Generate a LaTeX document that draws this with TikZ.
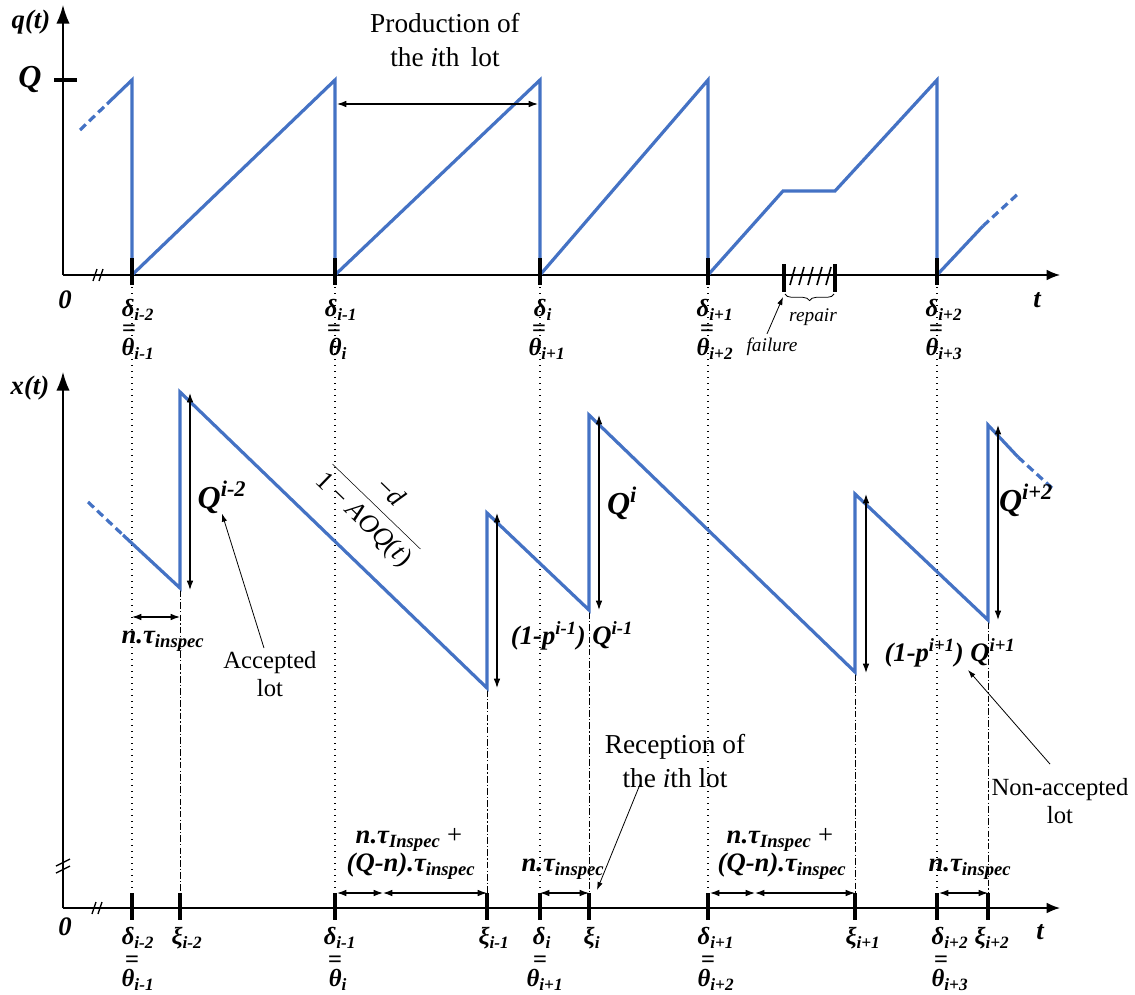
\documentclass[tikz,border=0pt]{standalone}
\usepackage{fontspec}
\setmainfont{Liberation Serif}
\usetikzlibrary{arrows.meta,decorations.pathreplacing}
\definecolor{curveblue}{HTML}{4472C4}
\begin{document}
\begin{tikzpicture}[x=0.75pt,y=-0.75pt,
  axis/.style={line width=1.1pt},
  axarrow/.style={axis,-{Latex[length=14pt,width=10pt]}},
  haxarrow/.style={axis,-{Latex[length=10pt,width=8pt]}},
  curv/.style={draw=curveblue,line width=2.4pt,line join=miter,miter limit=20},
  curvdash/.style={curv,dash pattern=on 6pt off 3.5pt},
  tickmark/.style={line width=3pt},
  dotv/.style={line width=1.1pt,dash pattern=on 1.1pt off 3.4pt},
  dashdotv/.style={line width=0.7pt,dash pattern=on 5pt off 1.6pt on 1pt off 1.6pt},
  dbl/.style={line width=0.9pt,{Latex[length=7pt,width=5pt]}-{Latex[length=7pt,width=5pt]}},
  pointer/.style={line width=0.6pt,-{Latex[length=6pt,width=4pt]}},
  lab/.style={inner sep=0pt,font=\bfseries\itshape\fontsize{18.5}{20}\selectfont},
  biglab/.style={inner sep=0pt,font=\bfseries\itshape\fontsize{20}{22}\selectfont},
  qlab/.style={inner sep=0pt,font=\bfseries\itshape\fontsize{24}{26}\selectfont},
  txt/.style={inner sep=0pt,align=center,font=\fontsize{18.5}{21}\selectfont},
  txtb/.style={inner sep=0pt,align=center,font=\fontsize{20.5}{26}\selectfont},
  smallit/.style={inner sep=0pt,font=\itshape\fontsize{14.5}{16}\selectfont}
]
\useasboundingbox (0,0) rectangle (1135,995);

% ---------- dotted and dash-dot guide lines ----------
\foreach \x in {132,335,540,708,937}
  \draw[dotv] (\x,287) -- (\x,893);
\draw[dashdotv] (180,590) -- (180,893);
\draw[dashdotv] (487,690) -- (487,893);
\draw[dashdotv] (589,612) -- (589,893);
\draw[dashdotv] (855,674) -- (855,893);
\draw[dashdotv] (988,622) -- (988,893);

% ---------- top panel axes ----------
\draw[axarrow] (63,275) -- (63,5);
\draw[haxarrow] (63,275) -- (1060,275);
\draw[line width=1pt] (93,281) -- (97,269) (99,281) -- (103,269);
\draw[tickmark] (54,80) -- (77,80);
\node[biglab] (qt) at (31,22) {q(t)};
\node[qlab] (Qlab) at (30,80) {Q};
\node[biglab] (zero1) at (65,300) {0};
\node[biglab] (t1) at (1037,300) {t};

% top curve
\draw[curvdash] (80,130) -- (107,104);
\draw[curv] (107,104) -- (132,80) -- (132,275) -- (335,80) -- (335,275) -- (540,80) -- (540,275)
  -- (708,80) -- (708,275) -- (783,191) -- (835,191) -- (937,80) -- (937,275) -- (983,226);
\draw[curvdash] (983,226) -- (1020,192);

% top ticks
\foreach \x in {132,335,540,708,937}
  \draw[tickmark] (\x,258) -- (\x,285);
\draw[tickmark] (784,264) -- (784,292);
\draw[tickmark] (835,264) -- (835,292);
\foreach \x in {790,799,808,817,826}
  \draw[line width=1.2pt] (\x,285) -- (\x+5,267);
\draw[line width=0.6pt,decorate,decoration={brace,mirror,amplitude=5pt}] (785,294) -- (834,294);
\node[smallit] (repair) at (813,317) {repair};
\node[smallit] (failure) at (772,347) {failure};
\coordinate (failpt) at (783,297);
\draw[pointer] (failure.north) ++(-5,-4) -- (failpt);

% production label
\draw[dbl] (337,104) -- (538,104);
\node[txtb] (prod) at (445,40) {Production of\\the \textit{i}th\, lot};

% top axis labels
\node[lab] (dA) at (138,310) {δ\textsubscript{i-2}};
\node[lab] (eA) at (129,331) {=};
\node[lab] (tA) at (138,349) {θ\textsubscript{i-1}};
\node[lab] (dB) at (341,310) {δ\textsubscript{i-1}};
\node[lab] (eB) at (334,331) {=};
\node[lab] (tB) at (338,349) {θ\textsubscript{i}};
\node[lab] (dC) at (543,310) {δ\textsubscript{i}};
\node[lab] (eC) at (539,331) {=};
\node[lab] (tC) at (547,349) {θ\textsubscript{i+1}};
\node[lab] (dD) at (715,310) {δ\textsubscript{i+1}};
\node[lab] (eD) at (707,331) {=};
\node[lab] (tD) at (715,349) {θ\textsubscript{i+2}};
\node[lab] (dE) at (944,310) {δ\textsubscript{i+2}};
\node[lab] (eE) at (936,331) {=};
\node[lab] (tE) at (944,349) {θ\textsubscript{i+3}};

% ---------- bottom panel axes ----------
\draw[axarrow] (63,908) -- (63,372);
\draw[haxarrow] (63,908) -- (1060,908);
\draw[line width=1pt] (56,866) -- (70,859) (56,873) -- (70,866);
\draw[line width=1pt] (92,914) -- (96,902) (98,914) -- (102,902);
\node[biglab] (xt) at (30,388) {x(t)};
\node[biglab] (zero2) at (65,927) {0};
\node[biglab] (t2) at (1040,932) {t};

% bottom curve
\draw[curvdash] (88,502) -- (123,535);
\draw[curv] (123,535) -- (180,588) -- (180,392) -- (487,688) -- (487,513) -- (589,610) -- (589,415)
  -- (855,672) -- (855,494) -- (988,620) -- (988,425) -- (1018,457);
\draw[curvdash] (1018,457) -- (1052,488);

% bottom ticks
\foreach \x in {132,180,335,487,540,589,708,855,937,988}
  \draw[tickmark] (\x,893) -- (\x,920);

% vertical quantity arrows
\draw[dbl] (190,393) -- (190,590);
\draw[dbl] (497,513) -- (497,688);
\draw[dbl] (599,415) -- (599,610);
\draw[dbl] (866,494) -- (866,673);
\draw[dbl] (998,425) -- (998,620);

\node[qlab] (Qim2) at (222,497) {Q\textsuperscript{i-2}};
\node[qlab] (Qi) at (622,503) {Q\textsuperscript{i}};
\node[qlab] (Qip2) at (1026,500) {Q\textsuperscript{i+2}};
\node[biglab] (Qim1) at (572,636) {(1-p\textsuperscript{i-1}) Q\textsuperscript{i-1}};
\node[biglab] (Qip1) at (950,653) {(1-p\textsuperscript{i+1}) Q\textsuperscript{i+1}};

% slope label
\node[inner sep=0pt,rotate=-44,font=\fontsize{20}{22}\selectfont] (slope) at (376,507)
  {$\displaystyle\frac{\mbox{−\textit{d}}}{\mbox{1 − \textit{AOQ}(\textit{t})}}$};

% inspection durations
\draw[dbl] (132,617) -- (180,617);
\node[biglab] (ins1) at (163,641) {n.τ\textsubscript{inspec}};

\draw[dbl] (337,893) -- (383,893);
\draw[dbl] (383,893) -- (487,893);
\node[biglab] (ins2a) at (409,840) {n.τ\textsubscript{Inspec} \textup{\mdseries +}};
\node[biglab] (ins2b) at (411,866) {(Q-n).τ\textsubscript{inspec}};

\draw[dbl] (540,893) -- (589,893);
\node[biglab] (ins3) at (563,869) {n.τ\textsubscript{inspec}};

\draw[dbl] (710,893) -- (755,893);
\draw[dbl] (755,893) -- (855,893);
\node[biglab] (ins4a) at (780,840) {n.τ\textsubscript{Inspec} \textup{\mdseries +}};
\node[biglab] (ins4b) at (782,866) {(Q-n).τ\textsubscript{inspec}};

\draw[dbl] (939,893) -- (988,893);
\node[biglab] (ins5) at (970,869) {n.τ\textsubscript{inspec}};

% annotations
\node[txt] (acc) at (270,674) {Accepted\\lot};
\draw[pointer] (acc.north) ++(-6,-3) -- (Qim2.south);
\node[txtb] (recep) at (675,761) {Reception of\\the \textit{i}th lot};
\coordinate (recpt) at (597,890);
\draw[pointer] (recep.south) ++(-35,-4) -- (recpt);
\node[txt] (nonacc) at (1060,801) {Non-accepted\\lot};
\coordinate (napt) at (968,670);
\draw[pointer] (nonacc.north) ++(-10,-14) -- (napt);

% bottom axis labels
\node[lab] (bdA) at (138,938) {δ\textsubscript{i-2}};
\node[lab] (bxA) at (187,938) {ξ\textsubscript{i-2}};
\node[lab] (beA) at (132,962) {=};
\node[lab] (btA) at (138,980) {θ\textsubscript{i-1}};
\node[lab] (bdB) at (340,938) {δ\textsubscript{i-1}};
\node[lab] (bxB) at (494,938) {ξ\textsubscript{i-1}};
\node[lab] (beB) at (335,962) {=};
\node[lab] (btB) at (338,980) {θ\textsubscript{i}};
\node[lab] (bdC) at (542,938) {δ\textsubscript{i}};
\node[lab] (bxC) at (592,938) {ξ\textsubscript{i}};
\node[lab] (beC) at (540,962) {=};
\node[lab] (btC) at (545,980) {θ\textsubscript{i+1}};
\node[lab] (bdD) at (716,938) {δ\textsubscript{i+1}};
\node[lab] (bxD) at (863,938) {ξ\textsubscript{i+1}};
\node[lab] (beD) at (708,962) {=};
\node[lab] (btD) at (716,980) {θ\textsubscript{i+2}};
\node[lab] (bdE) at (950,938) {δ\textsubscript{i+2}};
\node[lab] (bxE) at (992,938) {ξ\textsubscript{i+2}};
\node[lab] (beE) at (941,962) {=};
\node[lab] (btE) at (950,980) {θ\textsubscript{i+3}};
\end{tikzpicture}
\end{document}
